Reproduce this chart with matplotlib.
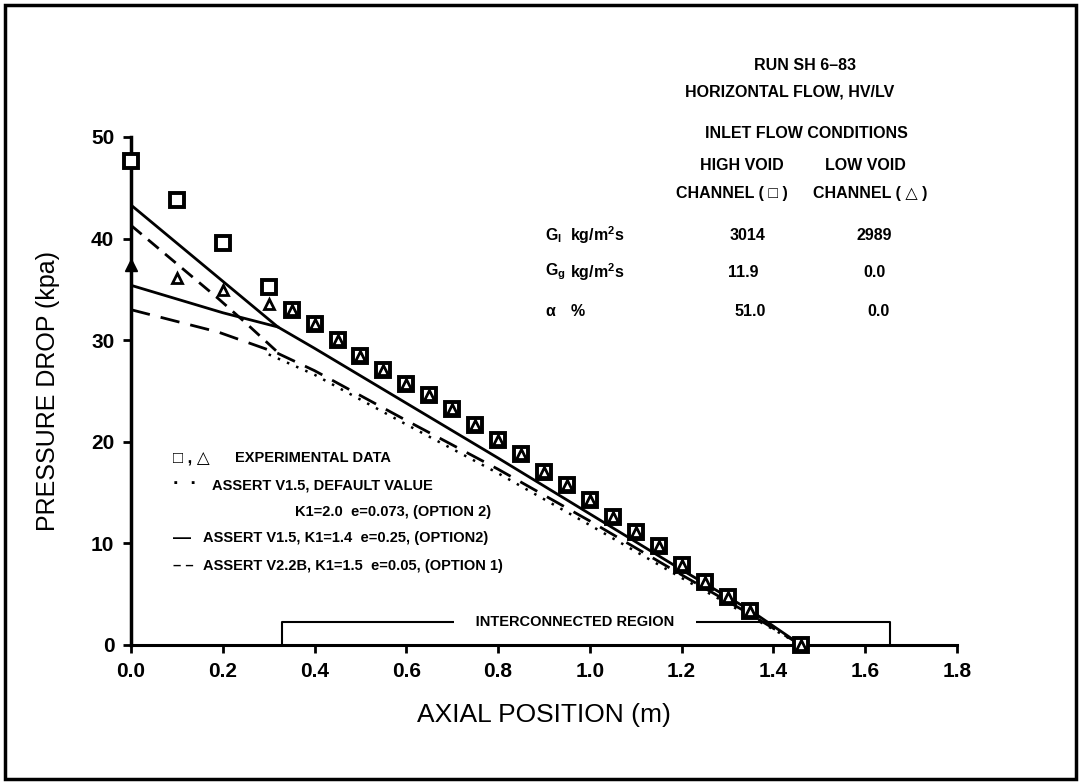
import matplotlib
matplotlib.use("Agg")
import matplotlib.pyplot as plt
from matplotlib.patches import Rectangle

plt.rcParams['font.family'] = ['Liberation Sans Narrow', 'Liberation Sans', 'DejaVu Sans']

# measured pressure drop, high void channel (squares)
hv_x = [0.0, 0.10, 0.20, 0.30, 0.35, 0.40, 0.45, 0.50, 0.55, 0.60, 0.65, 0.70, 0.75,
        0.80, 0.85, 0.90, 0.95, 1.00, 1.05, 1.10, 1.15, 1.20, 1.25, 1.30, 1.35, 1.46]
hv_y = [47.6, 43.8, 39.6, 35.2, 33.0, 31.6, 30.0, 28.4, 27.1, 25.7, 24.6, 23.2, 21.7,
        20.2, 18.8, 17.0, 15.7, 14.3, 12.6, 11.1, 9.7, 7.9, 6.2, 4.7, 3.3, 0.0]

# measured pressure drop, low void channel (triangles)
lv_x = [0.10, 0.20, 0.30, 0.35, 0.40, 0.45, 0.50, 0.55, 0.60, 0.65, 0.70, 0.75,
        0.80, 0.85, 0.90, 0.95, 1.00, 1.05, 1.10, 1.15, 1.20, 1.25, 1.30, 1.35, 1.46]
lv_y = [36.1, 34.9, 33.6, 33.0, 31.6, 30.0, 28.4, 27.1, 25.7, 24.6, 23.2, 21.7,
        20.2, 18.8, 17.0, 15.7, 14.3, 12.6, 11.1, 9.7, 7.9, 6.2, 4.7, 3.3, 0.0]
lv_inlet_x = [0.0]
lv_inlet_y = [37.4]

# ASSERT V1.5, K1=1.4 (solid)
v15_hv_x = [0.0, 0.32, 0.40, 0.60, 0.80, 1.00, 1.20, 1.35, 1.46]
v15_hv_y = [43.3, 31.3, 29.2, 23.8, 18.4, 12.9, 7.4, 3.4, 0.0]
v15_lv_x = [0.0, 0.20, 0.32]
v15_lv_y = [35.4, 32.7, 31.3]

# ASSERT V2.2B, K1=1.5 (dashed)
v22_hv_x = [0.0, 0.19, 0.25, 0.32]
v22_hv_y = [41.3, 34.1, 31.7, 28.8]
v22_lv_x = [0.0, 0.19, 0.29, 0.32, 0.40, 0.60, 0.80, 1.00, 1.20, 1.35, 1.46]
v22_lv_y = [33.0, 30.8, 29.2, 28.7, 27.0, 22.1, 17.3, 12.2, 6.9, 3.0, 0.0]

# ASSERT V1.5 default (dotted)
v15d_x = [0.30, 0.40, 0.60, 0.80, 1.00, 1.20, 1.35, 1.46]
v15d_y = [28.6, 26.6, 21.7, 16.9, 11.8, 6.6, 2.8, 0.0]

region_x = [0.33, 1.655]
region_top = 2.3

x_ticks = [0.0, 0.2, 0.4, 0.6, 0.8, 1.0, 1.2, 1.4, 1.6, 1.8]
y_ticks = [0, 10, 20, 30, 40, 50]

fig = plt.figure(figsize=(10.8, 7.84), dpi=100)
ax = fig.add_axes([0.1213, 0.1773, 0.7648, 0.648])

# outer frame
fig.patches.append(Rectangle((0.005, 0.006), 0.991, 0.988, transform=fig.transFigure,
                             fill=False, edgecolor='black', linewidth=2.5))

ax.plot(v15_hv_x, v15_hv_y, color='black', lw=2.0)
ax.plot(v15_lv_x, v15_lv_y, color='black', lw=2.0)
ax.plot(v22_hv_x, v22_hv_y, color='black', lw=2.0, dashes=(5, 3))
ax.plot(v22_lv_x, v22_lv_y, color='black', lw=2.0, dashes=(7, 4))
ax.plot(v15d_x, v15d_y, color='black', lw=1.8, dashes=(1, 3))

ax.plot(hv_x, hv_y, 's', ms=10, mfc='white', mec='black', mew=2.8, clip_on=False, zorder=5)
ax.plot(lv_x, lv_y, '^', ms=7.5, mfc='none', mec='black', mew=2.0, clip_on=False, zorder=6)
ax.plot(lv_inlet_x, lv_inlet_y, '^', ms=9, color='black', clip_on=False, zorder=6)

# interconnected region bracket, label sits in a gap of the top edge
ax.plot([region_x[0], region_x[0], region_x[1], region_x[1]], [0, region_top, region_top, 0],
        color='black', lw=1.5, clip_on=False)
ax.text(sum(region_x) / 2 - 0.025, region_top, '     INTERCONNECTED REGION     ',
        ha='center', va='center', fontsize=10.5, fontweight='bold',
        bbox=dict(facecolor='white', edgecolor='none', pad=1))

ax.set_xlim(0, 1.8)
ax.set_ylim(0, 50)
ax.set_xticks(x_ticks)
ax.set_xticklabels(['%.1f' % t for t in x_ticks])
ax.set_yticks(y_ticks)
for s in ['top', 'right']:
    ax.spines[s].set_visible(False)
ax.spines['left'].set_linewidth(2.5)
ax.spines['bottom'].set_linewidth(2.2)
ax.tick_params(direction='out', length=6, width=2, labelsize=15, pad=6)
for lab in ax.get_xticklabels() + ax.get_yticklabels():
    lab.set_fontweight('bold')

ax.set_xlabel('AXIAL POSITION (m)', fontsize=19, labelpad=16)
ax.set_ylabel('PRESSURE DROP (kpa)', fontsize=18, labelpad=22)

# legend block
fs = 10.5
ax.text(0.092, 18.4, '\u25a1 , \u25b3', fontsize=12, fontweight='bold', va='center',
        family=['Liberation Sans', 'DejaVu Sans'])
ax.text(0.227, 18.4, 'EXPERIMENTAL DATA', fontsize=fs, fontweight='bold', va='center')
ax.text(0.092, 15.8, '\u00b7  \u00b7', fontsize=14, fontweight='bold', va='center')
ax.text(0.177, 15.7, 'ASSERT V1.5, DEFAULT VALUE', fontsize=fs, fontweight='bold', va='center')
ax.text(0.357, 13.1, 'K1=2.0  e=0.073, (OPTION 2)', fontsize=fs, fontweight='bold', va='center')
ax.text(0.092, 10.5, '\u2014', fontsize=13, fontweight='bold', va='center')
ax.text(0.157, 10.5, 'ASSERT V1.5, K1=1.4  e=0.25, (OPTION2)', fontsize=fs, fontweight='bold', va='center')
ax.text(0.092, 7.8, '\u2013 \u2013', fontsize=fs, fontweight='bold', va='center')
ax.text(0.157, 7.8, 'ASSERT V2.2B, K1=1.5  e=0.05, (OPTION 1)', fontsize=fs, fontweight='bold', va='center')

# run information table
tf = 11.5
kw = dict(fontsize=tf, fontweight='bold', va='center', ha='center')
ax.text(1.469, 57.0, 'RUN SH 6\u201383', **kw)
ax.text(1.436, 54.4, 'HORIZONTAL FLOW, HV/LV', **kw)
ax.text(1.471, 50.3, 'INLET FLOW CONDITIONS', **kw)
ax.text(1.332, 47.2, 'HIGH VOID', **kw)
ax.text(1.600, 47.2, 'LOW VOID', **kw)
ax.text(1.310, 44.4, 'CHANNEL ( \u25a1 )', family=['Liberation Sans', 'DejaVu Sans'], **kw)
ax.text(1.610, 44.4, 'CHANNEL ( \u25b3 )', family=['Liberation Sans', 'DejaVu Sans'], **kw)

kl = dict(fontsize=tf, fontweight='bold', va='center', ha='left')
ax.text(0.902, 40.3, r'G$_\mathregular{l}$', **kl)
ax.text(0.957, 40.3, r'kg/m$^\mathregular{2}$s', **kl)
ax.text(0.902, 36.7, r'G$_\mathregular{g}$', **kl)
ax.text(0.957, 36.7, r'kg/m$^\mathregular{2}$s', **kl)
ax.text(0.902, 32.8, '\u03b1', **kl)
ax.text(0.957, 32.8, '%', **kl)
ax.text(1.343, 40.3, '3014', **kw)
ax.text(1.619, 40.3, '2989', **kw)
ax.text(1.334, 36.7, '11.9', **kw)
ax.text(1.620, 36.7, '0.0', **kw)
ax.text(1.349, 32.8, '51.0', **kw)
ax.text(1.630, 32.8, '0.0', **kw)

fig.savefig('out.png', dpi=100)
